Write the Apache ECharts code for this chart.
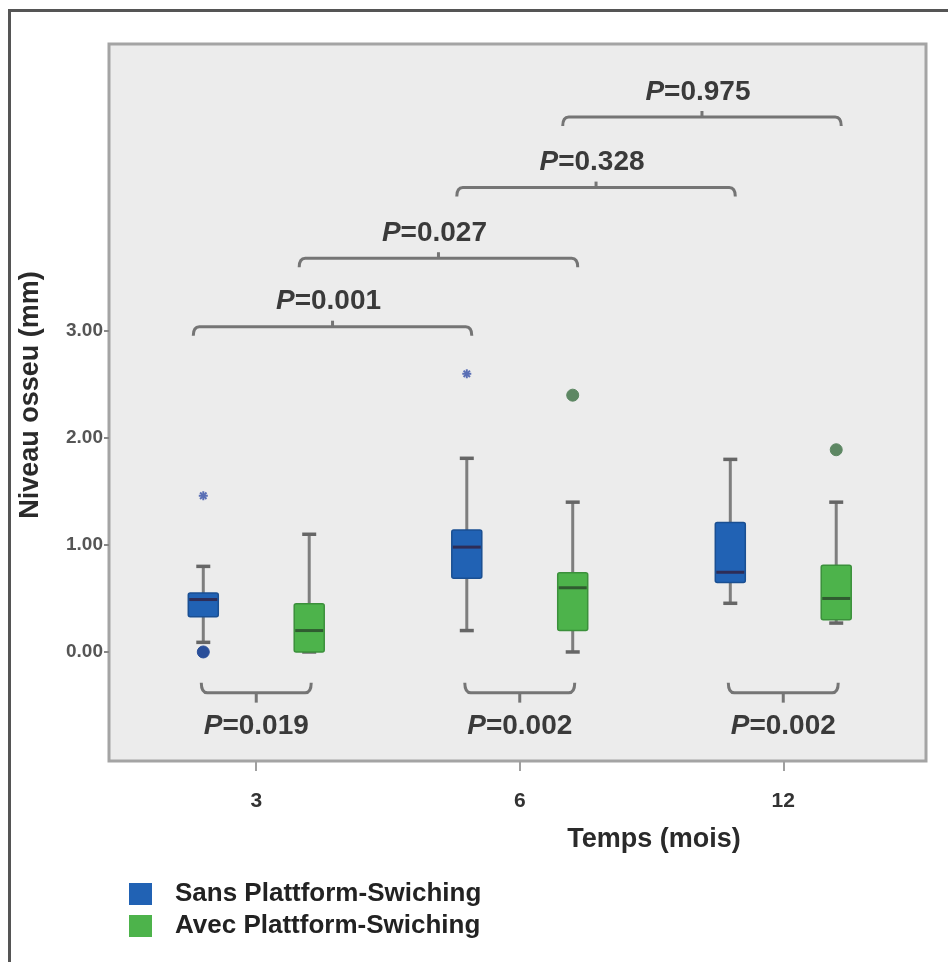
<!DOCTYPE html>
<html><head><meta charset="utf-8">
<script src="https://cdn.jsdelivr.net/npm/echarts@6/dist/echarts.min.js"></script>
<style>html,body{margin:0;padding:0;background:#fff}#c{width:948px;height:962px}</style>
</head><body><div id="c"></div>
<script>
const categories = ['3', '6', '12'];
const yTicks = [0, 1, 2, 3];
const seriesNames = ['Sans Plattform-Swiching', 'Avec Plattform-Swiching'];
// [min, Q1, median, Q3, max] per time point
const sansBox = [[0.09, 0.33, 0.49, 0.55, 0.80], [0.20, 0.69, 0.98, 1.14, 1.81], [0.455, 0.65, 0.745, 1.21, 1.80]];
const avecBox = [[0.0, 0.0, 0.20, 0.45, 1.10], [0.0, 0.20, 0.60, 0.74, 1.40], [0.27, 0.30, 0.50, 0.81, 1.40]];
// outliers: [time index, value]
const sansExtremes = [[0, 1.46], [1, 2.60]];
const sansOutliers = [[0, 0.0]];
const avecOutliers = [[1, 2.40], [2, 1.89]];
// comparisons across time: [from time, to time, group (0 sans / 1 avec)]
const timePairs = [[0, 1, 0], [0, 1, 1], [1, 2, 0], [1, 2, 1]];
const timePairP = ['0.001', '0.027', '0.328', '0.975'];
// comparisons between groups at each time
const groupPairP = ['0.019', '0.002', '0.002'];

const BLUE = '#2162b4', BLUE_S = '#1a4f92', GREEN = '#4db34b', GREEN_S = '#3b903b';
const OFF = 0.201;           // half distance between the two boxes, in category units
const TOP_LEVELS = [3.04, 3.68, 4.34, 5.0];
const BOTTOM_LEVEL = -0.38;
const FONT = 'Liberation Sans';

const chart = echarts.init(document.getElementById('c'));

function boxRender(fill, stroke, med, side) {
  return function (params, api) {
    const c = api.value(0);
    const x = api.coord([c + side * OFF, 0])[0];
    const y = i => api.coord([c, api.value(i)])[1];
    const yMin = y(1), yQ1 = y(2), yMed = y(3), yQ3 = y(4), yMax = y(5);
    const hw = 15, cap = 7;
    const wl = { stroke: '#7e7e7e', lineWidth: 3 };
    const cl = { stroke: '#666', lineWidth: 3.5 };
    return {
      type: 'group', children: [
        { type: 'line', shape: { x1: x, y1: yMax, x2: x, y2: yQ3 }, style: wl },
        { type: 'line', shape: { x1: x, y1: yQ1, x2: x, y2: yMin }, style: wl },
        { type: 'line', shape: { x1: x - cap, y1: yMax, x2: x + cap, y2: yMax }, style: cl },
        { type: 'line', shape: { x1: x - cap, y1: yMin, x2: x + cap, y2: yMin }, style: cl },
        { type: 'rect', shape: { x: x - hw, y: yQ3, width: 2 * hw, height: yQ1 - yQ3, r: 2 }, style: { fill: fill, stroke: stroke, lineWidth: 1.5 } },
        { type: 'line', shape: { x1: x - hw + 1, y1: yMed, x2: x + hw - 1, y2: yMed }, style: { stroke: med, lineWidth: 3 } }
      ]
    };
  };
}

function pointRender(kind, side, color) {
  return function (params, api) {
    const p = api.coord([api.value(0) + side * OFF, api.value(1)]);
    if (kind === 'circle') {
      return { type: 'circle', shape: { cx: p[0], cy: p[1], r: 6 }, style: { fill: color, stroke: color, lineWidth: 1 } };
    }
    const r = 4.5, ch = [];
    for (let k = 0; k < 4; k++) {
      const a = k * Math.PI / 4;
      ch.push({ type: 'line', shape: { x1: p[0] - r * Math.cos(a), y1: p[1] - r * Math.sin(a), x2: p[0] + r * Math.cos(a), y2: p[1] + r * Math.sin(a) }, style: { stroke: color, lineWidth: 2 } });
    }
    return { type: 'group', children: ch };
  };
}

function pText(p, x, y) {
  return {
    type: 'text', style: {
      text: '{i|P}=' + p, x: x, y: y, align: 'center', verticalAlign: 'middle',
      fontFamily: FONT, fontWeight: 'bold', fontSize: 28, fill: '#3a3a3a',
      rich: { i: { fontStyle: 'italic', fontWeight: 'bold', fontSize: 28, fontFamily: FONT, fill: '#3a3a3a' } }
    }
  };
}

function topBracketRender(params, api) {
  const d = timePairs[params.dataIndex];
  const side = d[2] === 0 ? -1 : 1;
  const lvl = TOP_LEVELS[params.dataIndex];
  const x1 = api.coord([d[0] + side * OFF, lvl])[0] - 10;
  const x2 = api.coord([d[1] + side * OFF, lvl])[0] + 5;
  const y = api.coord([d[0], lvl])[1];
  const xm = (x1 + x2) / 2;
  const st = { stroke: '#757575', lineWidth: 3, fill: null };
  return {
    type: 'group', children: [
      { type: 'path', shape: { pathData: `M${x1} ${y + 9} Q${x1} ${y} ${x1 + 6} ${y} L${x2 - 6} ${y} Q${x2} ${y} ${x2} ${y + 9}` }, style: st },
      { type: 'line', shape: { x1: xm, y1: y, x2: xm, y2: y - 6 }, style: st },
      pText(timePairP[params.dataIndex], xm - 4, y - 25)
    ]
  };
}

function bottomBracketRender(params, api) {
  const c = params.dataIndex;
  const x1 = api.coord([c - OFF, BOTTOM_LEVEL])[0] - 2;
  const x2 = api.coord([c + OFF, BOTTOM_LEVEL])[0] + 2;
  const y = api.coord([c, BOTTOM_LEVEL])[1];
  const xm = (x1 + x2) / 2;
  const st = { stroke: '#757575', lineWidth: 3, fill: null };
  return {
    type: 'group', children: [
      { type: 'path', shape: { pathData: `M${x1} ${y - 10} Q${x1} ${y} ${x1 + 6} ${y} L${x2 - 6} ${y} Q${x2} ${y} ${x2} ${y - 10}` }, style: st },
      { type: 'line', shape: { x1: xm, y1: y, x2: xm, y2: y + 10 }, style: st },
      pText(groupPairP[c], xm, y + 34)
    ]
  };
}

const idx = categories.map((_, i) => i);

chart.setOption({
  animation: false,
  backgroundColor: '#fff',
  grid: { left: 109, top: 44, width: 817, height: 717, show: true, backgroundColor: '#ececec', borderColor: '#a4a4a4', borderWidth: 3 },
  xAxis: {
    type: 'value', min: -0.5588, max: 2.5417,
    axisLine: { show: false, onZero: false }, splitLine: { show: false },
    axisTick: { show: true, customValues: idx, length: 10, lineStyle: { color: '#a0a0a0', width: 2 } },
    axisLabel: { customValues: idx, formatter: v => categories[Math.round(v)], margin: 30, color: '#333', fontFamily: FONT, fontWeight: 'bold', fontSize: 21 }
  },
  yAxis: {
    type: 'value', min: -1.019, max: 5.682,
    axisLine: { show: false, onZero: false }, splitLine: { show: false },
    axisTick: { show: true, customValues: yTicks, length: 5, lineStyle: { color: '#888', width: 2 } },
    axisLabel: { customValues: yTicks, formatter: v => v.toFixed(2), margin: 6, color: '#555', fontFamily: FONT, fontWeight: 'bold', fontSize: 19 }
  },
  legend: {
    orient: 'vertical', left: 124, top: 876, itemWidth: 23, itemHeight: 22, itemGap: 6,
    icon: 'rect', selectedMode: false,
    data: [{ name: seriesNames[0], itemStyle: { color: BLUE } }, { name: seriesNames[1], itemStyle: { color: GREEN } }],
    textStyle: { fontFamily: FONT, fontWeight: 'bold', fontSize: 26, color: '#222', padding: [0, 0, 0, 18] }
  },
  graphic: [
    { type: 'rect', left: 7, top: 8, z: -10, shape: { width: 980, height: 1000 }, style: { fill: null, stroke: '#555', lineWidth: 3 } },
    { type: 'text', x: 654, y: 840, style: { text: 'Temps (mois)', align: 'center', verticalAlign: 'middle', fontFamily: FONT, fontWeight: 'bold', fontSize: 27, fill: '#2a2a2a' } },
    { type: 'text', x: 31, y: 395, rotation: Math.PI / 2, style: { text: 'Niveau osseu (mm)', align: 'center', verticalAlign: 'middle', fontFamily: FONT, fontWeight: 'bold', fontSize: 27, fill: '#2a2a2a' } }
  ],
  series: [
    { name: seriesNames[0], type: 'custom', renderItem: boxRender(BLUE, BLUE_S, '#2e2d57', -1), data: sansBox.map((b, i) => [i].concat(b)), encode: { x: 0, y: [1, 2, 3, 4, 5] }, itemStyle: { color: BLUE } },
    { name: seriesNames[1], type: 'custom', renderItem: boxRender(GREEN, GREEN_S, '#2f5c30', 1), data: avecBox.map((b, i) => [i].concat(b)), encode: { x: 0, y: [1, 2, 3, 4, 5] }, itemStyle: { color: GREEN } },
    { name: 'sansExt', type: 'custom', renderItem: pointRender('star', -1, '#5a6fb5'), data: sansExtremes, encode: { x: 0, y: 1 } },
    { name: 'sansOut', type: 'custom', renderItem: pointRender('circle', -1, '#2a4f9a'), data: sansOutliers, encode: { x: 0, y: 1 } },
    { name: 'avecOut', type: 'custom', renderItem: pointRender('circle', 1, '#5d8763'), data: avecOutliers, encode: { x: 0, y: 1 } },
    { name: 'timeP', type: 'custom', renderItem: topBracketRender, data: timePairs.map((d, i) => [d[0], d[1], TOP_LEVELS[i]]), encode: { x: [0, 1], y: 2 } },
    { name: 'groupP', type: 'custom', renderItem: bottomBracketRender, data: idx.map(i => [i, BOTTOM_LEVEL]), encode: { x: 0, y: 1 } }
  ]
});
</script></body></html>
